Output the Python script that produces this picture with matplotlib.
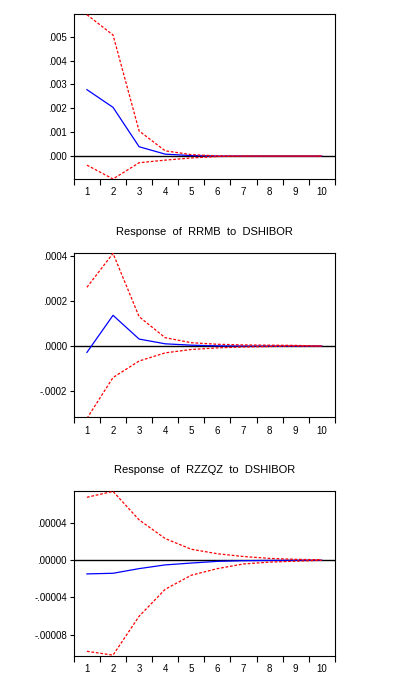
import matplotlib
matplotlib.use("Agg")
import matplotlib.pyplot as plt
from matplotlib.ticker import FixedLocator, FuncFormatter

plt.rcParams['font.family'] = ['Liberation Sans', 'DejaVu Sans']

periods = [1, 2, 3, 4, 5, 6, 7, 8, 9, 10]

# Panel 1 (title cut off in reference)
p1_resp = [0.00278, 0.00204, 0.00039, 0.00008, 0.00002, 0.0, 0.0, 0.0, 0.0, 0.0]
p1_upper = [0.00592, 0.00507, 0.00105, 0.00022, 0.00006, 0.00001, 0.0, 0.0, 0.0, 0.0]
p1_lower = [-0.00038, -0.00096, -0.00028, -0.00017, -0.00008, -0.00002, 0.0, 0.0, 0.0, 0.0]

# Panel 2
p2_title = "Response  of  RRMB  to  DSHIBOR"
p2_resp = [-0.000028, 0.000136, 0.000031, 0.000010, 0.000004, 0.000001, 0.0, 0.0, 0.0, 0.0]
p2_upper = [0.000260, 0.000410, 0.000130, 0.000037, 0.000015, 0.000008, 0.000005, 0.000004, 0.000003, 0.0]
p2_lower = [-0.000320, -0.000139, -0.000066, -0.000030, -0.000015, -0.000008, -0.000004, -0.000002, 0.0, 0.0]

# Panel 3
p3_title = "Response  of  RZZQZ  to  DSHIBOR"
p3_resp = [-0.0000147, -0.0000140, -0.0000090, -0.0000050, -0.0000030, -0.0000012, -0.0000005, -0.0000002, 0.0, 0.0]
p3_upper = [0.0000677, 0.0000740, 0.0000434, 0.0000233, 0.0000118, 0.0000070, 0.0000040, 0.0000020, 0.0000010, 0.0000005]
p3_lower = [-0.0000979, -0.0001020, -0.0000602, -0.0000312, -0.0000161, -0.0000090, -0.0000040, -0.0000020, -0.0000010, 0.0]

panels = [
    dict(title=None, resp=p1_resp, up=p1_upper, lo=p1_lower,
         ylim=(-0.00096, 0.00595), yticks=[0.0, 0.001, 0.002, 0.003, 0.004, 0.005], dec=3,
         rect=[0.188, 0.7387, 0.664, 0.2409]),
    dict(title=p2_title, resp=p2_resp, up=p2_upper, lo=p2_lower,
         ylim=(-0.000315, 0.000413), yticks=[-0.0002, 0.0, 0.0002, 0.0004], dec=4,
         rect=[0.188, 0.3908, 0.664, 0.2403]),
    dict(title=p3_title, resp=p3_resp, up=p3_upper, lo=p3_lower,
         ylim=(-0.0001026, 0.0000748), yticks=[-0.00008, -0.00004, 0.0, 0.00004], dec=5,
         rect=[0.188, 0.0428, 0.664, 0.2409]),
]

def make_fmt(dec):
    def f(v, pos):
        s = f"{v:.{dec}f}"
        if s.startswith("-0"):
            s = "-" + s[2:]
        elif s.startswith("0"):
            s = s[1:]
        return s
    return f

fig = plt.figure(figsize=(3.93, 6.85), dpi=100)
for p in panels:
    ax = fig.add_axes(p["rect"])
    ax.axhline(0, color="black", lw=1.0, zorder=1)
    ax.plot(periods, p["resp"], color="#0000ff", lw=0.9, zorder=3)
    ax.plot(periods, p["up"], color="#ff0000", lw=0.9, ls=(0, (2.2, 1.4)), zorder=4)
    ax.plot(periods, p["lo"], color="#ff0000", lw=0.9, ls=(0, (2.2, 1.4)), zorder=4)
    ax.set_xlim(0.5, 10.5)
    ax.set_ylim(*p["ylim"])
    ax.xaxis.set_major_locator(FixedLocator([x + 0.5 for x in range(0, 11)]))
    ax.xaxis.set_major_formatter(FuncFormatter(lambda v, pos: ""))
    ax.xaxis.set_minor_locator(FixedLocator(periods))
    ax.xaxis.set_minor_formatter(FuncFormatter(lambda v, pos: f"{int(round(v))}"))
    ax.tick_params(axis="x", which="major", direction="out", length=4, width=0.8)
    ax.tick_params(axis="x", which="minor", length=0, labelsize=7, pad=6)
    ax.set_yticks(p["yticks"])
    ax.yaxis.set_major_formatter(FuncFormatter(make_fmt(p["dec"])))
    ax.tick_params(axis="y", direction="out", length=3, width=0.8, labelsize=7, pad=2)
    for s in ax.spines.values():
        s.set_linewidth(0.8)
    if p["title"]:
        ax.set_title(p["title"], fontsize=8, pad=12.5)

fig.savefig("out.png", dpi=100)
